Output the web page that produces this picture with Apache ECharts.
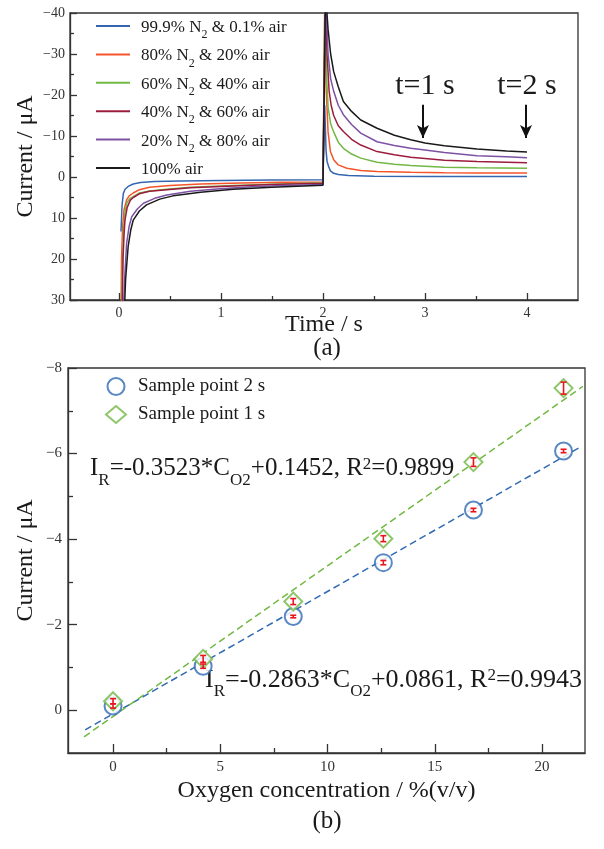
<!DOCTYPE html>
<html><head><meta charset="utf-8">
<script src="https://cdn.jsdelivr.net/npm/echarts@6/dist/echarts.min.js"></script>
<style>html,body{margin:0;padding:0;background:#fff}#c{width:604px;height:849px}</style>
</head><body><div id="c"></div>
<script>
// ---------- (a) transient currents: [time s, current µA] ----------
const seriesNames = ['99.9% N2 & 0.1% air', '80% N2 & 20% air', '60% N2 & 40% air', '40% N2 & 60% air', '20% N2 & 80% air', '100% air'];
const curve0 = [[0.02,13.3],[0.03,7],[0.043,4.0],[0.06,3.0],[0.09,2.3],[0.14,1.7],[0.21,1.35],[0.35,1.1],[0.6,0.95],[1.0,0.85],[1.5,0.75],[2.0,0.65],
  [2.015,0.6],[2.017,-17.5],[2.03,-6.5],[2.04,-3.8],[2.056,-2.5],[2.073,-1.5],[2.105,-0.9],[2.15,-0.6],[2.25,-0.35],[2.5,-0.2],[3.0,-0.15],[3.5,-0.1],[4.0,-0.1]];
const curve1 = [[0.02,35],[0.025,20],[0.036,12.1],[0.05,8.0],[0.075,5.6],[0.1,4.6],[0.14,3.9],[0.2,3.1],[0.3,2.5],[0.5,2.1],[0.8,1.7],[1.2,1.45],[1.6,1.3],[2.0,1.2],
  [2.018,-45],[2.03,-22],[2.05,-11],[2.073,-6.2],[2.105,-4.2],[2.15,-2.95],[2.235,-2.15],[2.37,-1.6],[2.53,-1.35],[2.86,-1.15],[3.19,-1.05],[3.5,-1.0],[4.0,-0.95]];
const curve2 = [[0.025,35],[0.035,20],[0.045,13],[0.059,8.5],[0.08,6.2],[0.108,5.2],[0.14,4.8],[0.2,3.9],[0.3,3.4],[0.47,3.0],[0.7,2.5],[1.12,2.1],[1.5,1.75],[2.0,1.4],
  [2.02,-45],[2.035,-25],[2.05,-17],[2.075,-13],[2.105,-11],[2.15,-8.5],[2.2,-7.0],[2.28,-5.6],[2.37,-4.6],[2.53,-3.6],[2.7,-3.1],[2.86,-2.8],[3.0,-2.65],[3.19,-2.4],[3.51,-2.25],[4.0,-2.15]];
const curve3 = [[0.03,35],[0.04,20],[0.05,14],[0.059,10.5],[0.08,7.5],[0.11,5.7],[0.14,5.0],[0.2,4.1],[0.3,3.5],[0.47,3.1],[0.7,2.6],[1.12,2.2],[1.5,1.85],[2.0,1.5],
  [2.022,-45],[2.04,-30],[2.06,-21],[2.08,-17.5],[2.105,-15],[2.15,-12.5],[2.2,-11.1],[2.28,-9.2],[2.37,-7.8],[2.53,-6.2],[2.7,-5.4],[2.86,-4.8],[3.0,-4.5],[3.19,-4.1],[3.51,-3.8],[3.8,-3.6],[4.0,-3.45]];
const curve4 = [[0.04,35],[0.055,25],[0.075,16.2],[0.1,12],[0.125,9.7],[0.18,7.8],[0.24,6.4],[0.35,5.2],[0.47,4.4],[0.7,3.5],[0.96,2.9],[1.3,2.4],[1.6,2.1],[2.0,1.8],
  [2.025,-45],[2.05,-30],[2.075,-24],[2.105,-20.9],[2.15,-17.5],[2.2,-15.2],[2.28,-12.8],[2.37,-10.7],[2.53,-8.6],[2.7,-7.7],[2.86,-7.0],[3.0,-6.6],[3.19,-6.0],[3.51,-5.2],[3.8,-4.95],[4.0,-4.7]];
const curve5 = [[0.05,35],[0.065,25],[0.09,17],[0.115,13],[0.14,10.5],[0.2,8.3],[0.27,6.8],[0.4,5.4],[0.53,4.6],[0.8,3.7],[1.12,3.0],[1.5,2.5],[2.0,2.0],
  [2.025,-45],[2.05,-36],[2.075,-30],[2.105,-25.7],[2.15,-22],[2.2,-18.4],[2.28,-16],[2.37,-13.9],[2.53,-11.9],[2.7,-10.2],[2.86,-9.1],[3.0,-8.3],[3.19,-7.6],[3.51,-6.8],[3.8,-6.35],[4.0,-6.1]];
const curves = [curve0, curve1, curve2, curve3, curve4, curve5];
const arrowTimes = [2.98, 3.99];
const arrowSpan = [-17.6, -9.5];
const arrowLabels = ['t=1 s', 't=2 s'];
const xTicksA = [0, 1, 2, 3, 4];
const xMinorA = [0.5, 1.5, 2.5, 3.5];

// ---------- (b) calibration ----------
const o2Conc = [0, 4.2, 8.4, 12.6, 16.8, 21];
const current2s = [-0.1, -1.03, -2.19, -3.45, -4.68, -6.06];
const current1s = [-0.21, -1.2, -2.54, -4.01, -5.80, -7.53];
const err2s = [0.05, 0.05, 0.03, 0.05, 0.04, 0.04];
const err1s = [0.06, 0.08, 0.07, 0.07, 0.1, 0.14];
const fit2s = [[-1.3, 0.458], [21.8, -6.155]];
const fit1s = [[-1.35, 0.621], [21.9, -7.570]];
const xTicksB = [0, 5, 10, 15, 20];
const xMinorB = [2.5, 7.5, 12.5, 17.5];
const yTicksB = [-8, -6, -4, -2, 0];
const yMinorB = [-7, -5, -3, -1];
const legendB = ['Sample point 2 s', 'Sample point 1 s'];

// ---------- styles ----------
const colors = ['#3466b0', '#f5542a', '#72b844', '#9c1c3e', '#7d52a4', '#1a1a1a'];
const FF = "'Liberation Serif', 'DejaVu Serif', serif";
const AX = '#333';
const minus = v => v < 0 ? '\u2212' + Math.abs(v) : String(v);

const chart = echarts.init(document.getElementById('c'), null, {renderer: 'canvas'});

function errItem(params, api) {
  const x = api.value(0), lo = api.value(1), hi = api.value(2);
  const p1 = api.coord([x, lo]), p2 = api.coord([x, hi]);
  const w = 3;
  const style = {stroke: '#e8141e', lineWidth: 1.6};
  return {type: 'group', children: [
    {type: 'line', shape: {x1: p1[0], y1: p1[1], x2: p2[0], y2: p2[1]}, style},
    {type: 'line', shape: {x1: p1[0] - w, y1: p1[1], x2: p1[0] + w, y2: p1[1]}, style},
    {type: 'line', shape: {x1: p2[0] - w, y1: p2[1], x2: p2[0] + w, y2: p2[1]}, style}
  ]};
}

const lineOn = {show: true, onZero: false, lineStyle: {color: AX, width: 1.3}};
const lineOff = {show: false, onZero: false};
const baseAxis = {
  splitLine: {show: false},
  nameTextStyle: {fontFamily: FF, fontSize: 24, color: '#1a1a1a'},
  nameLocation: 'middle',
  nameMoveOverlap: false
};

const eqRich = (fs) => ({
  m: {fontFamily: FF, fontSize: fs, lineHeight: 30, verticalAlign: 'top', fill: '#1a1a1a'},
  sub: {fontFamily: FF, fontSize: 17, lineHeight: 17, padding: [16, 0, 0, 0], verticalAlign: 'top', fill: '#1a1a1a'},
  sup: {fontFamily: FF, fontSize: 17, lineHeight: 17, padding: [0, 0, 0, 0], verticalAlign: 'top', fill: '#1a1a1a'}
});

const option = {
  animation: false,
  backgroundColor: '#fff',
  grid: [
    {left: 70, top: 13, right: 26, bottom: 549, show: true, borderColor: AX, borderWidth: 1.3, backgroundColor: 'transparent'},
    {left: 68, top: 368, right: 19, bottom: 96, show: true, borderColor: AX, borderWidth: 1.3, backgroundColor: 'transparent'}
  ],
  xAxis: [
    Object.assign({}, baseAxis, {gridIndex: 0, type: 'value', min: -0.48, max: 4.5, position: 'bottom', axisLine: lineOn,
      name: 'Time / s', nameGap: 13,
      axisTick: {show: true, inside: true, length: 7, customValues: xTicksA, lineStyle: {color: AX, width: 1.3}},
      axisLabel: {customValues: xTicksA, fontFamily: FF, fontSize: 14, color: '#333', margin: 6}}),
    Object.assign({}, baseAxis, {gridIndex: 0, type: 'value', min: -0.48, max: 4.5, position: 'bottom', axisLine: lineOff,
      axisTick: {show: true, inside: true, length: 4, customValues: xMinorA, lineStyle: {color: AX, width: 1.3}},
      axisLabel: {show: false}}),
    Object.assign({}, baseAxis, {gridIndex: 1, type: 'value', min: -2.1, max: 22, position: 'bottom', axisLine: lineOn,
      name: 'Oxygen concentration / %(v/v)', nameGap: 26,
      axisTick: {show: true, inside: true, length: 9, customValues: xTicksB, lineStyle: {color: AX, width: 1.3}},
      axisLabel: {customValues: xTicksB, fontFamily: FF, fontSize: 15, color: '#333', margin: 7}}),
    Object.assign({}, baseAxis, {gridIndex: 1, type: 'value', min: -2.1, max: 22, position: 'bottom', axisLine: lineOff,
      axisTick: {show: true, inside: true, length: 5, customValues: xMinorB, lineStyle: {color: AX, width: 1.3}},
      axisLabel: {show: false}})
  ],
  yAxis: [
    Object.assign({}, baseAxis, {gridIndex: 0, type: 'value', min: -40, max: 30, interval: 10, inverse: true, position: 'left', axisLine: lineOn,
      name: 'Current / \u03bcA', nameGap: 32,
      axisTick: {show: true, inside: true, length: 7, lineStyle: {color: AX, width: 1.3}},
      minorTick: {show: true, splitNumber: 2, length: 4, lineStyle: {color: AX, width: 1.3}},
      axisLabel: {formatter: minus, fontFamily: FF, fontSize: 14, color: '#333', margin: 5}}),
    Object.assign({}, baseAxis, {gridIndex: 1, type: 'value', min: -8, max: 1, inverse: true, position: 'left', axisLine: lineOn,
      name: 'Current / \u03bcA', nameGap: 30,
      axisTick: {show: true, inside: true, length: 9, customValues: yTicksB, lineStyle: {color: AX, width: 1.3}},
      axisLabel: {customValues: yTicksB, formatter: minus, fontFamily: FF, fontSize: 15, color: '#333', margin: 6}}),
    Object.assign({}, baseAxis, {gridIndex: 1, type: 'value', min: -8, max: 1, inverse: true, position: 'left', axisLine: lineOff,
      axisTick: {show: true, inside: true, length: 5, customValues: yMinorB, lineStyle: {color: AX, width: 1.3}},
      axisLabel: {show: false}})
  ],
  legend: [
    {data: seriesNames, orient: 'vertical', left: 91, top: 14, itemWidth: 34, itemHeight: 2, itemGap: 6.4, icon: 'rect',
      formatter: n => { const i = n.indexOf('N2'); return i < 0 ? '{m|' + n + '}' : '{m|' + n.slice(0, i + 1) + '}{sub|2}{m|' + n.slice(i + 2) + '}'; },
      textStyle: {padding: [8, 0, 0, 6], rich: {
        m: {fontFamily: FF, fontSize: 17, lineHeight: 22, verticalAlign: 'top', color: '#1a1a1a'},
        sub: {fontFamily: FF, fontSize: 12, lineHeight: 12, padding: [10, 0, 0, 0], verticalAlign: 'top', color: '#1a1a1a'}}}},
    {data: legendB, orient: 'vertical', left: 100, top: 372, itemWidth: 20, itemHeight: 17, itemGap: 9,
      textStyle: {fontFamily: FF, fontSize: 19, color: '#1a1a1a', padding: [0, 0, 0, 7]}}
  ],
  series: [],
  graphic: [
    {type: 'text', x: 327, y: 348, style: {text: '(a)', fontFamily: FF, fontSize: 25, fill: '#1a1a1a', align: 'center', verticalAlign: 'middle'}},
    {type: 'text', x: 327, y: 821, style: {text: '(b)', fontFamily: FF, fontSize: 25, fill: '#1a1a1a', align: 'center', verticalAlign: 'middle'}},
    {type: 'text', x: 425, y: 86, style: {text: arrowLabels[0], fontFamily: FF, fontSize: 30, fill: '#1a1a1a', align: 'center', verticalAlign: 'middle'}},
    {type: 'text', x: 527, y: 86, style: {text: arrowLabels[1], fontFamily: FF, fontSize: 30, fill: '#1a1a1a', align: 'center', verticalAlign: 'middle'}},
    {type: 'text', x: 90, y: 456, style: {text: '{m|I}{sub|R}{m|=-0.3523*C}{sub|O2}{m|+0.1452, R}{sup|2}{m|=0.9899}', rich: eqRich(25), align: 'left', verticalAlign: 'top'}},
    {type: 'text', x: 205, y: 667, style: {text: '{m|I}{sub|R}{m|=-0.2863*C}{sub|O2}{m|+0.0861, R}{sup|2}{m|=0.9943}', rich: eqRich(26), align: 'left', verticalAlign: 'top'}}
  ]
};

curves.forEach((c, i) => {
  const s = {type: 'line', name: seriesNames[i], xAxisIndex: 0, yAxisIndex: 0, data: c,
    symbol: 'none', showSymbol: false, clip: true, smooth: false,
    lineStyle: {color: colors[i], width: 1.5}, itemStyle: {color: colors[i]}, z: 2 + i};
  if (i === 5) {
    s.markLine = {silent: true, symbol: ['none', 'arrow'], symbolSize: [9, 13],
      lineStyle: {color: '#111', width: 2, type: 'solid'}, label: {show: false},
      data: arrowTimes.map(t => [{coord: [t, arrowSpan[0]]}, {coord: [t, arrowSpan[1]]}])};
  }
  option.series.push(s);
});

option.series.push(
  {type: 'line', name: 'fit2', xAxisIndex: 2, yAxisIndex: 1, data: fit2s, symbol: 'none', silent: true,
    lineStyle: {color: '#2f6ab3', width: 1.5, type: [7, 4]}, z: 2},
  {type: 'line', name: 'fit1', xAxisIndex: 2, yAxisIndex: 1, data: fit1s, symbol: 'none', silent: true,
    lineStyle: {color: '#72b844', width: 1.5, type: [7, 4]}, z: 2},
  {type: 'scatter', name: legendB[0], xAxisIndex: 2, yAxisIndex: 1, data: o2Conc.map((x, i) => [x, current2s[i]]),
    symbol: 'emptyCircle', symbolSize: 17, itemStyle: {color: '#2f6ab3', borderWidth: 1.5}, z: 3},
  {type: 'scatter', name: legendB[1], xAxisIndex: 2, yAxisIndex: 1, data: o2Conc.map((x, i) => [x, current1s[i]]),
    symbol: 'emptyDiamond', symbolSize: 18, itemStyle: {color: '#72b844', borderWidth: 1.5}, z: 3},
  {type: 'custom', name: 'err2', xAxisIndex: 2, yAxisIndex: 1, renderItem: errItem, z: 4,
    data: o2Conc.map((x, i) => [x, current2s[i] - err2s[i], current2s[i] + err2s[i]]), encode: {x: 0, y: [1, 2]}},
  {type: 'custom', name: 'err1', xAxisIndex: 2, yAxisIndex: 1, renderItem: errItem, z: 4,
    data: o2Conc.map((x, i) => [x, current1s[i] - err1s[i], current1s[i] + err1s[i]]), encode: {x: 0, y: [1, 2]}}
);

chart.setOption(option);
</script></body></html>
